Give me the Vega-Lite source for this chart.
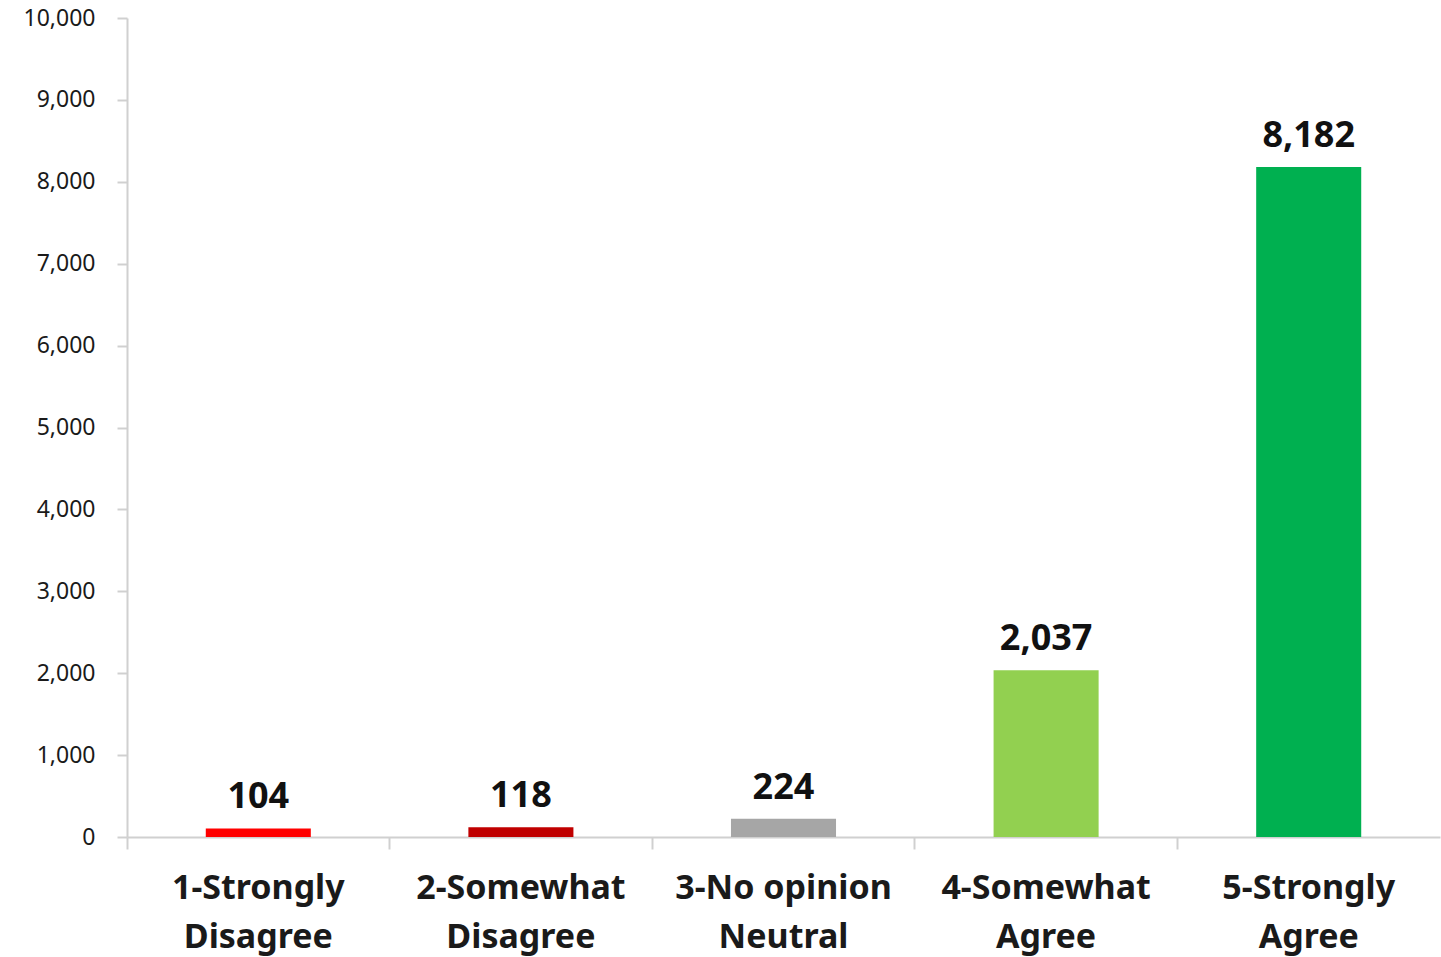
{
  "$schema": "https://vega.github.io/schema/vega-lite/v6.json",
  "width": 1313,
  "height": 819,
  "autosize": "none",
  "padding": {"left": 127, "top": 18, "right": 1, "bottom": 120},
  "background": "white",
  "config": {"view": {"stroke": null}},
  "data": {
    "values": [
      {"category": "1-Strongly Disagree", "count": 104, "color": "#FF0000"},
      {"category": "2-Somewhat Disagree", "count": 118, "color": "#C00000"},
      {"category": "3-No opinion Neutral", "count": 224, "color": "#A6A6A6"},
      {"category": "4-Somewhat Agree", "count": 2037, "color": "#92D050"},
      {"category": "5-Strongly Agree", "count": 8182, "color": "#00B050"}
    ]
  },
  "encoding": {
    "x": {
      "field": "category",
      "type": "nominal",
      "sort": null,
      "scale": {"paddingInner": 0, "paddingOuter": 0},
      "axis": {
        "title": null,
        "labelAngle": 0,
        "labelLimit": 0,
        "labelExpr": "split(datum.label, ' ').length > 2 ? [split(datum.label, ' ')[0] + ' ' + split(datum.label, ' ')[1], split(datum.label, ' ')[2]] : split(datum.label, ' ')",
        "labelFont": "Noto Sans",
        "labelFontWeight": "bold",
        "labelFontSize": 34,
        "labelColor": "#1a1a1a",
        "labelLineHeight": 49,
        "labelPadding": 22,
        "labelBaseline": "top",
        "domainColor": "#d0d0d0",
        "domainWidth": 2,
        "tickColor": "#d0d0d0",
        "tickWidth": 2,
        "tickSize": 12,
        "bandPosition": 0
      }
    },
    "y": {
      "field": "count",
      "type": "quantitative",
      "scale": {"domain": [0, 10000]},
      "axis": {
        "title": null,
        "values": [0, 1000, 2000, 3000, 4000, 5000, 6000, 7000, 8000, 9000, 10000],
        "format": ",d",
        "grid": false,
        "labelFont": "Noto Sans",
        "labelFontSize": 23,
        "labelColor": "#1a1a1a",
        "labelPadding": 22,
        "domainColor": "#d0d0d0",
        "domainWidth": 2,
        "tickColor": "#d0d0d0",
        "tickWidth": 2,
        "tickSize": 10
      }
    }
  },
  "layer": [
    {
      "mark": {"type": "bar", "width": {"band": 0.4}},
      "encoding": {
        "color": {"field": "color", "type": "nominal", "scale": null}
      }
    },
    {
      "mark": {"type": "text", "baseline": "bottom", "dy": -12, "font": "Noto Sans", "fontWeight": "bold", "fontSize": 36, "color": "#111111"},
      "encoding": {
        "text": {"field": "count", "type": "quantitative", "format": ","}
      }
    }
  ]
}
